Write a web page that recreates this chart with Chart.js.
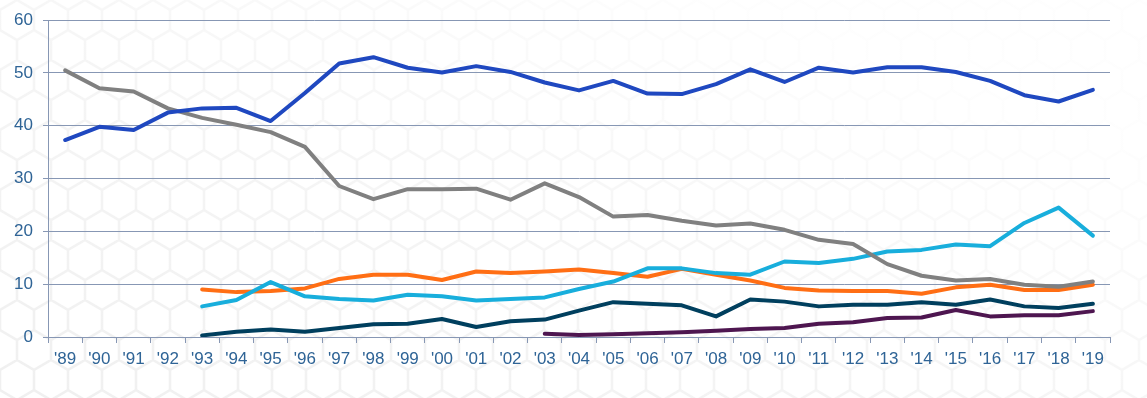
<!DOCTYPE html>
<html>
<head>
<meta charset="utf-8">
<script src="https://cdn.jsdelivr.net/npm/chart.js@4"></script>
<style>
html,body{margin:0;padding:0;width:1147px;height:398px;overflow:hidden;}
body{
  background-color:#ffffff;
  background-image:
    linear-gradient(to top right, rgba(255,255,255,0) 0%, rgba(255,255,255,0.35) 45%, rgba(255,255,255,0.9) 80%),
    url("data:image/svg+xml;utf8,<svg xmlns='http://www.w3.org/2000/svg' width='34' height='60'><path d='M0,10 L17,0 L34,10 M0,10 L0,30 L17,40 L34,30 L34,10 M17,40 L17,60' fill='none' stroke='%23000' stroke-opacity='0.06' stroke-width='2.5'/></svg>");
}
#wrap{position:absolute;left:0;top:0;width:1147px;height:398px;}
</style>
</head>
<body>
<div id="wrap"><canvas id="c" width="1147" height="398"></canvas></div>
<script>
const categories = ["'89","'90","'91","'92","'93","'94","'95","'96","'97","'98","'99","'00","'01","'02","'03","'04","'05","'06","'07","'08","'09","'10","'11","'12","'13","'14","'15","'16","'17","'18","'19"];
const yTicks = [0,10,20,30,40,50,60];

const blueSeries = [37.3,39.8,39.2,42.5,43.3,43.4,40.9,46.2,51.8,53.0,51.0,50.1,51.3,50.2,48.2,46.7,48.5,46.1,46.0,47.9,50.7,48.3,51.0,50.1,51.1,51.1,50.2,48.5,45.8,44.6,46.8];
const graySeries = [50.5,47.1,46.5,43.3,41.5,40.2,38.8,36.0,28.6,26.1,28.0,28.0,28.1,26.0,29.1,26.5,22.8,23.1,22.0,21.1,21.5,20.3,18.4,17.6,13.8,11.6,10.7,11.0,9.9,9.5,10.5];
const orangeSeries = [null,null,null,null,9.0,8.5,8.7,9.2,11.0,11.8,11.8,10.8,12.4,12.1,12.4,12.8,12.1,11.4,12.9,11.8,10.7,9.3,8.8,8.7,8.7,8.2,9.4,9.9,8.9,8.9,9.9];
const cyanSeries = [null,null,null,null,5.8,7.0,10.4,7.7,7.2,6.9,8.0,7.7,6.9,7.2,7.5,9.1,10.5,13.0,13.0,12.1,11.8,14.3,14.0,14.8,16.2,16.5,17.5,17.2,21.6,24.5,19.2];
const navySeries = [null,null,null,null,0.3,1.0,1.4,1.0,1.7,2.4,2.5,3.4,1.9,3.0,3.3,5.0,6.6,6.3,6.0,3.9,7.1,6.7,5.8,6.1,6.1,6.6,6.1,7.1,5.8,5.5,6.3];
const purpleSeries = [null,null,null,null,null,null,null,null,null,null,null,null,null,null,0.6,0.4,0.5,0.7,0.9,1.2,1.5,1.7,2.5,2.8,3.6,3.7,5.1,3.9,4.1,4.1,4.9];

function ds(data, color, order){
  return {data:data, borderColor:color, backgroundColor:color, borderWidth:4, pointRadius:0, pointHoverRadius:0, tension:0, fill:false, spanGaps:false, order:order, borderJoinStyle:'round', borderCapStyle:'round'};
}

const axisColor = '#8797b4';
const tickColor = '#2f6496';

new Chart(document.getElementById('c'), {
  type:'line',
  data:{
    labels:categories,
    datasets:[
      ds(blueSeries,'#1f48c0',1),
      ds(graySeries,'#808080',2),
      ds(cyanSeries,'#18aedc',3),
      ds(orangeSeries,'#ff6e14',4),
      ds(navySeries,'#003f5e',5),
      ds(purpleSeries,'#4e1650',6)
    ]
  },
  options:{
    responsive:false,
    animation:false,
    events:[],
    layout:{padding:{top:12,right:37,left:0,bottom:0}},
    plugins:{legend:{display:false},tooltip:{enabled:false}},
    scales:{
      x:{
        offset:true,
        grid:{display:true, offset:true, drawOnChartArea:false, drawTicks:true, tickLength:6, color:axisColor, lineWidth:1},
        border:{display:true, color:axisColor, width:1},
        ticks:{color:tickColor, font:{family:'"Liberation Sans", Arial, sans-serif', size:17}, padding:6, maxRotation:0, autoSkip:false},
        afterFit:(s)=>{s.height=61;}
      },
      y:{
        min:0, max:60,
        afterBuildTicks:(s)=>{s.ticks = yTicks.map(v=>({value:v}));},
        grid:{display:true, drawOnChartArea:true, drawTicks:true, tickLength:5, color:axisColor, lineWidth:1},
        border:{display:true, color:axisColor, width:1},
        ticks:{color:tickColor, font:{family:'"Liberation Sans", Arial, sans-serif', size:17}, padding:10},
        afterFit:(s)=>{s.width=48;}
      }
    }
  }
});
</script>
</body>
</html>
